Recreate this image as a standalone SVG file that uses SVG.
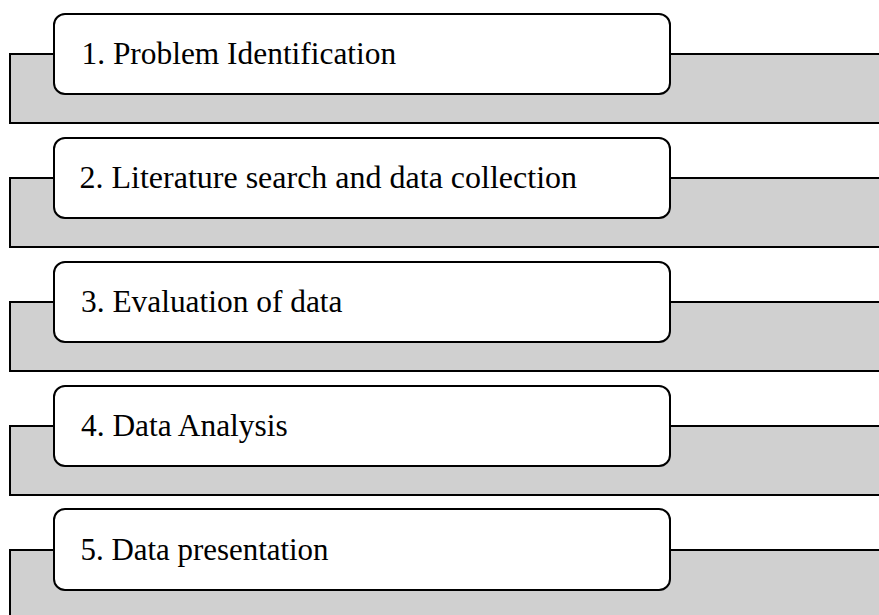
<svg xmlns="http://www.w3.org/2000/svg" width="879" height="615" viewBox="0 0 879 615">
  <style>
    .band { fill: #d0d0d0; stroke: #000; stroke-width: 2; }
    .step { fill: #fff; stroke: #000; stroke-width: 2; }
    .label { font-family: "Liberation Serif", "Times New Roman", serif; font-size: 31.4px; fill: #000; }
  </style>
  <rect width="879" height="615" fill="#fff"/>

  <!-- Step 1 -->
  <g id="step1">
    <rect class="band" x="10" y="54" width="890" height="69"/>
    <rect class="step" x="54" y="14" width="616" height="80" rx="11"/>
    <text class="label" x="81.5" y="63.5">1. Problem Identification</text>
  </g>

  <!-- Step 2 -->
  <g id="step2">
    <rect class="band" x="10" y="178" width="890" height="69"/>
    <rect class="step" x="54" y="138" width="616" height="80" rx="11"/>
    <text class="label" x="79.5" y="188" style="font-size:32px">2. Literature search and data collection</text>
  </g>

  <!-- Step 3 -->
  <g id="step3">
    <rect class="band" x="10" y="302" width="890" height="69"/>
    <rect class="step" x="54" y="262" width="616" height="80" rx="11"/>
    <text class="label" x="81" y="312">3. Evaluation of data</text>
  </g>

  <!-- Step 4 -->
  <g id="step4">
    <rect class="band" x="10" y="426" width="890" height="69"/>
    <rect class="step" x="54" y="386" width="616" height="80" rx="11"/>
    <text class="label" x="81" y="436">4. Data Analysis</text>
  </g>

  <!-- Step 5 -->
  <g id="step5">
    <rect class="band" x="10" y="550" width="890" height="80"/>
    <rect class="step" x="54" y="509" width="616" height="81" rx="11"/>
    <text class="label" x="80.6" y="560" style="font-size:30.9px">5. Data presentation</text>
  </g>
</svg>
